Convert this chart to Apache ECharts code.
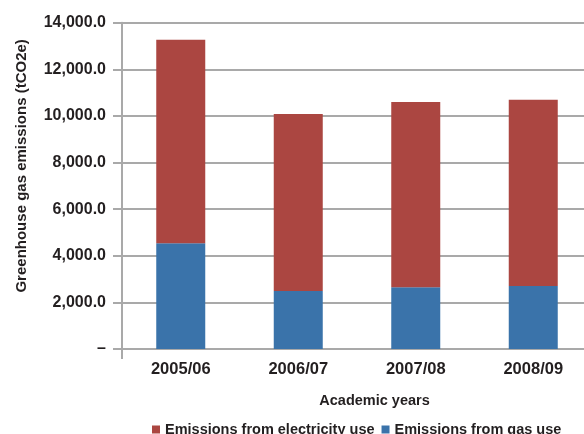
<!DOCTYPE html>
<html>
<head>
<meta charset="utf-8">
<script src="https://cdn.jsdelivr.net/npm/echarts@6/dist/echarts.min.js"></script>
<style>
  html, body { margin: 0; padding: 0; background: #ffffff; }
  #chart { width: 584px; height: 434px; }
</style>
</head>
<body>
<div id="chart"></div>
<script>
// Academic years on the category axis
const years = ['2005/06', '2006/07', '2007/08', '2008/09'];
// Emissions in tCO2e, stacked: gas at the base, electricity above it
const gasEmissions = [4540, 2490, 2650, 2705];
const electricityEmissions = [8730, 7590, 7950, 7985];
// Value-axis range and step
const yMin = 0;
const yMax = 14000;
const yStep = 2000;

const FONT = '"Liberation Sans", Arial, Helvetica, sans-serif';
const TEXT = '#231f20';
const GRID_GREY = '#a9a9a9';
const RED = '#ab4641';
const BLUE = '#3a73aa';

function formatTick(v) {
  if (v === 0) return '\u2013';
  return v.toLocaleString('en-US', { minimumFractionDigits: 1, maximumFractionDigits: 1 });
}

const chart = echarts.init(document.getElementById('chart'), null, { renderer: 'canvas' });

chart.setOption({
  animation: false,
  backgroundColor: '#ffffff',
  textStyle: { fontFamily: FONT },
  // plot area runs past the right edge of the canvas
  grid: { left: 122, width: 470, top: 22.7, bottom: 85, containLabel: false, outerBoundsMode: 'none' },
  legend: {
    data: ['Emissions from electricity use', 'Emissions from gas use'],
    left: 152,
    top: 422,
    icon: 'rect',
    itemWidth: 8,
    itemHeight: 8,
    itemGap: 7,
    padding: 0,
    textStyle: { fontFamily: FONT, fontSize: 14.5, fontWeight: 'bold', color: TEXT }
  },
  xAxis: {
    type: 'category',
    data: years,
    boundaryGap: true,
    name: 'Academic years',
    nameLocation: 'middle',
    nameGap: 44,
    nameTextStyle: { fontFamily: FONT, fontSize: 14.5, fontWeight: 'bold', color: TEXT, padding: [0, 0, 0, 35] },
    axisLine: { show: true, lineStyle: { color: GRID_GREY, width: 2 } },
    axisTick: {
      show: true,
      length: 10,
      interval: function (index) { return index === 0; },
      lineStyle: { color: GRID_GREY, width: 2 }
    },
    axisLabel: { margin: 12, fontFamily: FONT, fontSize: 16.5, fontWeight: 'bold', color: TEXT },
    splitLine: { show: false }
  },
  yAxis: {
    type: 'value',
    min: yMin,
    max: yMax,
    interval: yStep,
    name: 'Greenhouse gas emissions (tCO2e)',
    nameLocation: 'middle',
    nameGap: 93,
    nameTextStyle: { fontFamily: FONT, fontSize: 15, fontWeight: 'bold', color: TEXT, padding: [0, 0, 0, 40] },
    axisLine: { show: true, lineStyle: { color: GRID_GREY, width: 2 } },
    axisTick: { show: true, length: 9, lineStyle: { color: GRID_GREY, width: 2 } },
    axisLabel: { margin: 16, formatter: formatTick, fontFamily: FONT, fontSize: 16, fontWeight: 'bold', color: TEXT },
    splitLine: { show: true, lineStyle: { color: GRID_GREY, width: 2 } }
  },
  series: [
    {
      name: 'Emissions from gas use',
      type: 'bar',
      stack: 'total',
      data: gasEmissions,
      barWidth: 49,
      itemStyle: { color: BLUE }
    },
    {
      name: 'Emissions from electricity use',
      type: 'bar',
      stack: 'total',
      data: electricityEmissions,
      barWidth: 49,
      itemStyle: { color: RED }
    }
  ]
});
</script>
</body>
</html>
